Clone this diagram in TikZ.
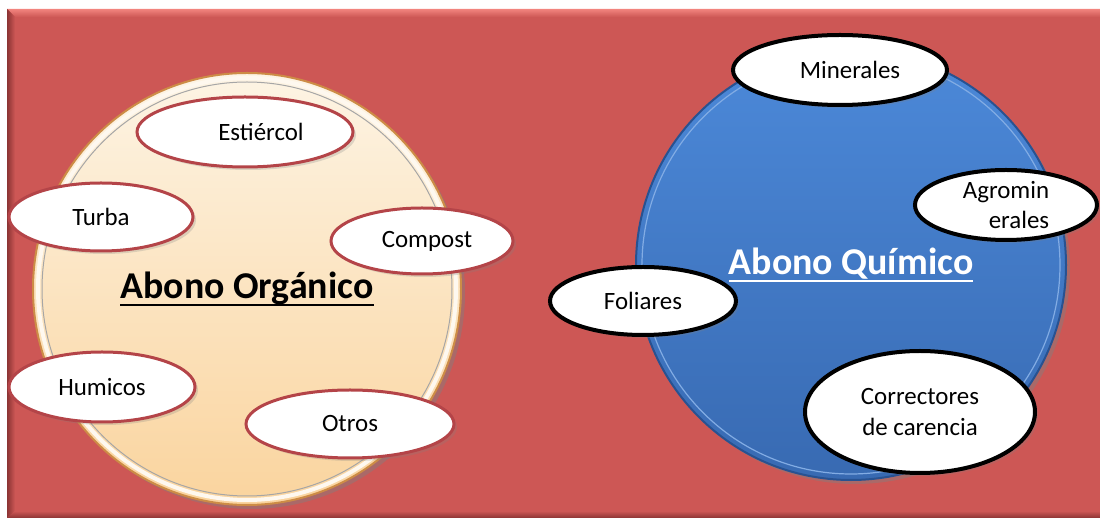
\documentclass[tikz,border=0pt]{standalone}
\usepackage{fontspec}
\usepackage{tikz}
\usetikzlibrary{shapes.geometric,shadows}
\setmainfont{Carlito}
\definecolor{fondo}{RGB}{205,87,85}
\definecolor{fondoclaro}{RGB}{242,132,126}
\definecolor{fondooscuro}{RGB}{140,52,52}
\definecolor{crema}{RGB}{253,244,228}
\definecolor{durazno}{RGB}{250,212,158}
\definecolor{dorado}{RGB}{205,140,70}
\definecolor{azul}{RGB}{76,137,217}
\definecolor{azuloscuro}{RGB}{56,106,178}
\definecolor{azulborde}{RGB}{40,82,145}
\definecolor{rojizo}{RGB}{180,68,72}
\newcommand{\etiq}{\fontsize{12.5}{15.5}\selectfont}
\newcommand{\titulo}{\fontsize{19}{23}\selectfont\bfseries}
\newcommand{\subrayado}[1]{\setbox0\hbox{#1}\rlap{\copy0}\raisebox{-4bp}{\rule{\wd0}{1.3bp}}}
\tikzset{
	organico/.style={ellipse, draw=rojizo, line width=1.5bp, fill=white, inner sep=0pt, font=\etiq,
		drop shadow={shadow xshift=1.5bp, shadow yshift=-1.5bp, opacity=.25}},
	quimico/.style={ellipse, draw=black, line width=2bp, fill=white, inner sep=0pt, font=\etiq, align=center,
		drop shadow={shadow xshift=1.5bp, shadow yshift=-1.5bp, opacity=.25}},
}

\begin{document}
\begin{tikzpicture}[x=0.5bp,y=-0.5bp]
			\useasboundingbox (0,0) rectangle (1102,519);
			\fill[fondo] (7,9) rectangle (1100,518);
			\shade[top color=fondoclaro, bottom color=fondo] (7,9) -- (1100,9) -- (1100,17) -- (15,17) -- cycle;
			\shade[left color=fondooscuro, right color=fondo] (7,9) -- (15,17) -- (15,511) -- (7,518) -- cycle;
			\shade[top color=fondo, bottom color=fondooscuro] (7,518) -- (15,511) -- (1100,511) -- (1100,518) -- cycle;
			\node[ellipse, minimum width=214bp, minimum height=216bp, inner sep=0pt, top color=crema, bottom color=durazno,
				draw=dorado, line width=1bp, drop shadow={shadow xshift=2bp, shadow yshift=-2bp, opacity=.45},
				font=\titulo] (org) at (247,289) {\subrayado{Abono Orgánico}};
			\draw[crema!60!white, line width=2bp] (org.center) ellipse [x radius=209, y radius=211];
			\draw[black!35, line width=.5bp] (org.center) ellipse [x radius=205, y radius=207];
			\node[ellipse, minimum width=215bp, minimum height=215bp, inner sep=0pt, top color=azul, bottom color=azuloscuro,
				draw=azulborde, line width=1bp, drop shadow={shadow xshift=2bp, shadow yshift=-2bp, opacity=.45},
				font=\titulo, text=white] (qui) at (851,265) {\subrayado{Abono Químico}};
			\draw[azul!70!white, line width=.6bp] (qui.center) ellipse [x radius=209, y radius=209];
			\node[organico, minimum width=108bp, minimum height=35bp] (estiercol) at (245,132) {\hspace*{16bp}Estiércol};
			\node[organico, minimum width=92bp, minimum height=34bp] (turba) at (101,217) {Turba};
			\node[organico, minimum width=91bp, minimum height=33bp] (compost) at (422,241) {\hspace*{5bp}Compost};
			\node[organico, minimum width=93bp, minimum height=35bp] (humicos) at (102,387) {Humicos};
			\node[organico, minimum width=104bp, minimum height=34bp] (otros) at (350,424) {Otros};
			\node[quimico, minimum width=107bp, minimum height=35bp] (minerales) at (840,70) {\hspace*{10bp}Minerales};
			\node[quimico, minimum width=91bp, minimum height=35bp, align=right] (agro) at (1006,205) {Agromin\\erales};
			\node[quimico, minimum width=93bp, minimum height=34bp] (foliares) at (643,301) {Foliares};
			\node[quimico, minimum width=115bp, minimum height=61bp] (correctores) at (920,412) {Correctores\\de carencia};
		\end{tikzpicture}
\end{document}
